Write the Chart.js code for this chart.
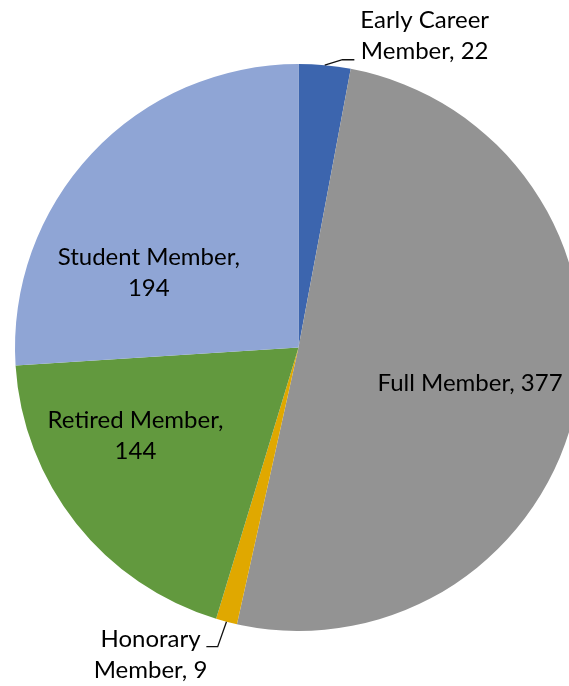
<!DOCTYPE html>
<html lang="en">
<head>
    <meta charset="UTF-8">
    <title>Membership</title>
    <script src="https://cdn.jsdelivr.net/npm/chart.js"></script>
</head>
<style>
    body {
        margin: 0;
        background: #fff;
        overflow: hidden;
    }
    .chart-container {
        position: absolute;
        top: 0;
        left: 0;
        width: 596px;
        height: 686px;
    }
</style>
<body>
<div class="chart-container">
    <canvas id="pieChart" width="596" height="686"></canvas>
</div>

<script>
    var categories = ['Early Career Member', 'Full Member', 'Honorary Member', 'Retired Member', 'Student Member'];
    var memberCounts = [22, 377, 9, 144, 194];
    var sliceColors = ['#3c65ae', '#939393', '#e0a800', '#62993e', '#8fa5d5'];

    // label lines and where they sit, in units of the pie radius from the centre
    var labelLines = [
        ['Early Career', 'Member, 22'],
        ['Full Member, 377'],
        ['Honorary', 'Member, 9'],
        ['Retired Member,', '144'],
        ['Student Member,', '194']
    ];
    var labelSpots = [
        { dx: 0.445, dy: -1.10, leader: [[0.155, -1.015], [0.197, -1.015]] },
        { dx: 0.605, dy: 0.125 },
        { dx: -0.522, dy: 1.085, leader: [[-0.285, 1.055], [-0.325, 1.055]] },
        { dx: -0.575, dy: 0.31 },
        { dx: -0.528, dy: -0.265 }
    ];

    var FONT = '24px Lato';
    var LINE_H = 31;

    var labelPlugin = {
        id: 'sliceLabels',
        afterDatasetsDraw: function (chart) {
            var ctx = chart.ctx;
            var meta = chart.getDatasetMeta(0);
            ctx.save();
            ctx.font = FONT;
            ctx.fillStyle = '#000';
            ctx.textAlign = 'center';
            ctx.textBaseline = 'middle';
            meta.data.forEach(function (arc, i) {
                var R = arc.outerRadius;
                var spot = labelSpots[i];
                var lx = arc.x + spot.dx * R;
                var ly = arc.y + spot.dy * R;

                if (spot.leader) {
                    var mid = (arc.startAngle + arc.endAngle) / 2;
                    ctx.beginPath();
                    ctx.strokeStyle = '#111';
                    ctx.lineWidth = 1.3;
                    ctx.moveTo(arc.x + Math.cos(mid) * R, arc.y + Math.sin(mid) * R);
                    spot.leader.forEach(function (p) {
                        ctx.lineTo(arc.x + p[0] * R, arc.y + p[1] * R);
                    });
                    ctx.stroke();
                }

                var lines = labelLines[i];
                var top = ly - (lines.length - 1) * LINE_H / 2;
                lines.forEach(function (txt, k) {
                    ctx.fillText(txt, lx, top + k * LINE_H);
                });
            });
            ctx.restore();
        }
    };

    var ctx = document.getElementById('pieChart').getContext('2d');
    window.myChart = new Chart(ctx, {
        type: 'pie',
        data: {
            labels: categories,
            datasets: [{
                data: memberCounts,
                backgroundColor: sliceColors,
                borderWidth: 0
            }]
        },
        options: {
            responsive: false,
            animation: false,
            layout: {
                padding: { left: 15, right: 14, top: 64, bottom: 55 }
            },
            plugins: {
                legend: { display: false },
                tooltip: { enabled: false }
            }
        },
        plugins: [labelPlugin]
    });
</script>
</body>
</html>
